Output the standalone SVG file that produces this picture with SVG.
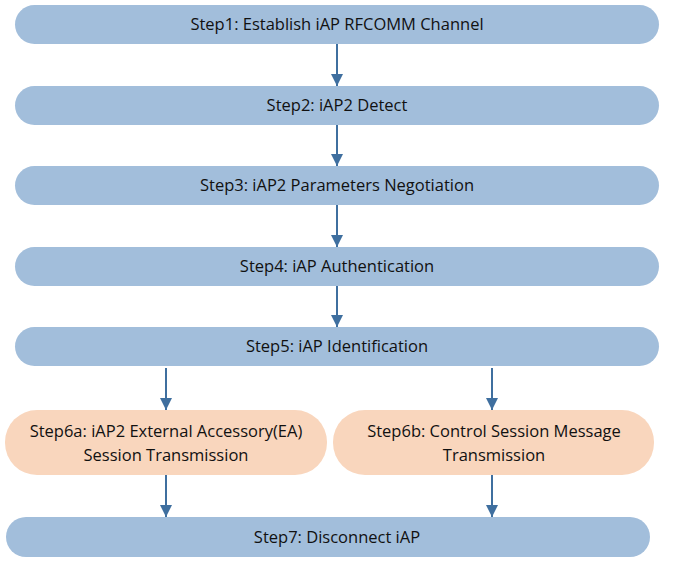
<svg xmlns="http://www.w3.org/2000/svg" width="673" height="571" viewBox="0 0 673 571">
<style>
.b{fill:#a2bedb}
.o{fill:#f9d6bd}
text{font-family:"Open Sans","Liberation Sans",sans-serif;font-size:16.5px;fill:#111;text-anchor:middle}
.c line{stroke:#3f6f9f;stroke-width:2;marker-end:url(#a)}
</style>
<defs><marker id="a" viewBox="0 0 10 10" refX="10" refY="5" markerWidth="12" markerHeight="12" orient="auto" markerUnits="userSpaceOnUse"><path d="M0,0L10,5L0,10z" fill="#3f6f9f"/></marker></defs>
<rect width="673" height="571" fill="#fff"/>
<g id="s1"><rect class="b" x="15" y="5" width="644" height="39" rx="19.5"/><text x="337" y="30">Step1: Establish iAP RFCOMM Channel</text></g>
<g id="s2"><rect class="b" x="15" y="86" width="644" height="39" rx="19.5"/><text x="337" y="111">Step2: iAP2 Detect</text></g>
<g id="s3"><rect class="b" x="15" y="166" width="644" height="39" rx="19.5"/><text x="337" y="191">Step3: iAP2 Parameters Negotiation</text></g>
<g id="s4"><rect class="b" x="15" y="247" width="644" height="39" rx="19.5"/><text x="337" y="272">Step4: iAP Authentication</text></g>
<g id="s5"><rect class="b" x="15" y="327" width="644" height="39" rx="19.5"/><text x="337" y="352">Step5: iAP Identification</text></g>
<g id="s6a"><rect class="o" x="5" y="410" width="322" height="65" rx="32"/><text x="166" y="437">Step6a: iAP2 External Accessory(EA)</text><text x="166" y="461">Session Transmission</text></g>
<g id="s6b"><rect class="o" x="333" y="410" width="321" height="65" rx="32"/><text x="494" y="437">Step6b: Control Session Message</text><text x="494" y="461">Transmission</text></g>
<g id="s7"><rect class="b" x="6" y="517" width="644" height="40" rx="20"/><text x="337" y="543">Step7: Disconnect iAP</text></g>
<g class="c">
<line x1="337" y1="44" x2="337" y2="86"/>
<line x1="337" y1="125" x2="337" y2="166"/>
<line x1="337" y1="205" x2="337" y2="247"/>
<line x1="337" y1="286" x2="337" y2="327"/>
<line x1="166" y1="368" x2="166" y2="410"/>
<line x1="492" y1="368" x2="492" y2="410"/>
<line x1="166" y1="475" x2="166" y2="517"/>
<line x1="492" y1="475" x2="492" y2="517"/>
</g>
</svg>
